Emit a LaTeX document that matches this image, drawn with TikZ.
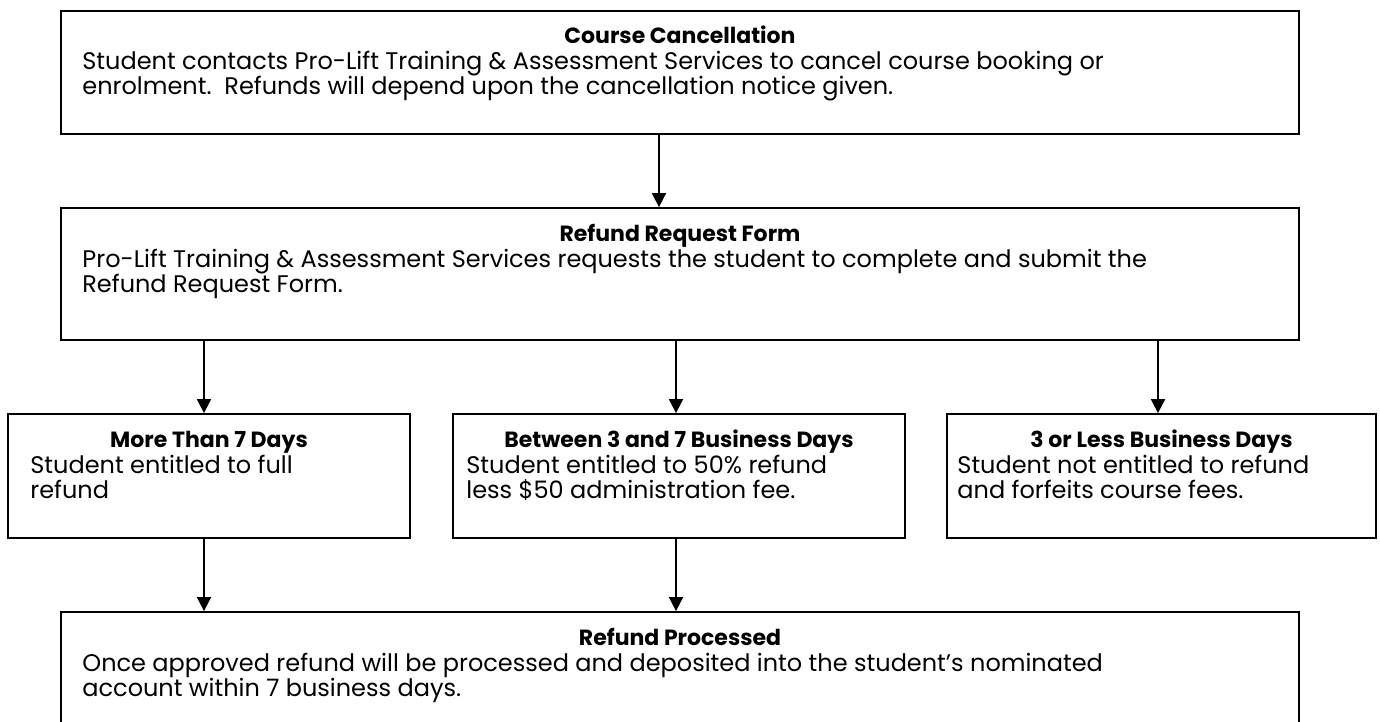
\documentclass[tikz,border=0pt]{standalone}
\usepackage{fontspec}
\setmainfont{Poppins}
\usetikzlibrary{arrows.meta}
\begin{document}
\begin{tikzpicture}[x=0.5pt,y=-0.5pt,
  boxst/.style={draw=black,line width=0.9pt,inner sep=0pt},
  ttl/.style={font=\fontsize{11}{12.5}\selectfont\bfseries,inner sep=0pt,anchor=base},
  ln/.style={font=\fontsize{12}{12.5}\selectfont,inner sep=0pt,anchor=base west},
  arr/.style={line width=0.9pt,-{Triangle[width=7pt,length=7pt]}}]
\useasboundingbox (0,0) rectangle (1380,722);
% boxes
\node[boxst,minimum width=619pt,minimum height=61.5pt] (b1) at (680,72.5) {};
\node[boxst,minimum width=619pt,minimum height=66pt] (b2) at (680,274) {};
\node[boxst,minimum width=201pt,minimum height=62pt] (b3) at (209,476) {};
\node[boxst,minimum width=226pt,minimum height=62pt] (b4) at (679,476) {};
\node[boxst,minimum width=214.5pt,minimum height=62pt] (b5) at (1161.5,476) {};
\node[boxst,minimum width=619pt,minimum height=57pt] (b6) at (680,669) {};
% texts box 1
\node[ttl] (t1) at (680,44) {Course Cancellation};
\node[ln] (t1a) at (82,70) {Student contacts Pro-Lift Training \& Assessment Services to cancel course booking or};
\node[ln] (t1b) at (82,95) {enrolment.\ \ Refunds will depend upon the cancellation notice given.};
% box 2
\node[ttl] (t2) at (680,241) {Refund Request Form};
\node[ln] (t2a) at (82,267) {Pro-Lift Training \& Assessment Services requests the student to complete and submit the};
\node[ln] (t2b) at (82,292) {Refund Request Form.};
% box 3
\node[ttl] (t3) at (209,447) {More Than 7 Days};
\node[ln] (t3a) at (30,473) {Student entitled to full};
\node[ln] (t3b) at (30,498) {refund};
% box 4
\node[ttl] (t4) at (679,447) {Between 3 and 7 Business Days};
\node[ln] (t4a) at (466,473) {Student entitled to 50\% refund};
\node[ln] (t4b) at (466,498) {less \$50 administration fee.};
% box 5
\node[ttl] (t5) at (1161.5,447) {3 or Less Business Days};
\node[ln] (t5a) at (957,473) {Student not entitled to refund};
\node[ln] (t5b) at (957,498) {and forfeits course fees.};
% box 6
\node[ttl] (t6) at (680,645) {Refund Processed};
\node[ln] (t6a) at (82,671) {Once approved refund will be processed and deposited into the student’s nominated};
\node[ln] (t6b) at (82,696) {account within 7 business days.};
% connectors
\coordinate (x1) at (659,0);
\coordinate (x2) at (204,0);
\coordinate (x3) at (676,0);
\coordinate (x4) at (1158,0);
\draw[arr] (b1.south -| x1) -- (b2.north -| x1);
\draw[arr] (b2.south -| x2) -- (b3.north -| x2);
\draw[arr] (b2.south -| x3) -- (b4.north -| x3);
\draw[arr] (b2.south -| x4) -- (b5.north -| x4);
\draw[arr] (b3.south -| x2) -- (b6.north -| x2);
\draw[arr] (b4.south -| x3) -- (b6.north -| x3);
\end{tikzpicture}
\end{document}
